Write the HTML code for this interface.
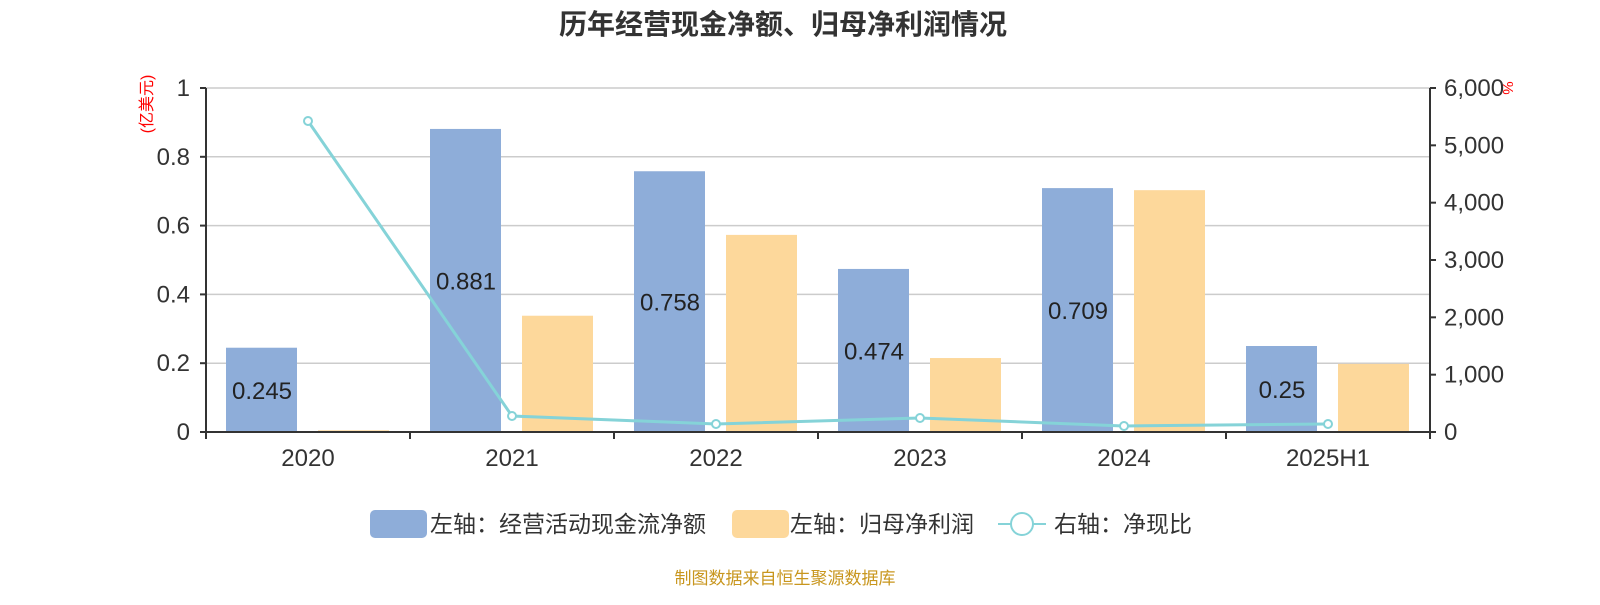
<!DOCTYPE html>
<html><head><meta charset="utf-8">
<style>
body{margin:0;background:#fff;font-family:"Liberation Sans","Noto Sans CJK SC",sans-serif;}
svg text{font-family:"Liberation Sans","Noto Sans CJK SC",sans-serif;}
</style></head>
<body>
<svg id="chart" width="1600" height="600" xmlns="http://www.w3.org/2000/svg">
<text x="783" y="34" text-anchor="middle" font-size="28" font-weight="bold" fill="#333">历年经营现金净额、归母净利润情况</text>
<text transform="translate(152,104) rotate(-90)" text-anchor="middle" font-size="16" fill="red">(亿美元)</text>
<text transform="translate(1503,88) rotate(90)" text-anchor="middle" font-size="15" fill="red">%</text>
<g id="grid"></g>
<g id="bars"></g>
<g id="line"></g>
<g id="axes"></g>
<g>
<rect x="370" y="510" width="57" height="28" rx="5" fill="#8eadd9"/>
<text x="430" y="532" font-size="23" fill="#333">左轴：经营活动现金流净额</text>
<rect x="732" y="510" width="57" height="28" rx="5" fill="#fdd89b"/>
<text x="790" y="532" font-size="23" fill="#333">左轴：归母净利润</text>
<line x1="998" y1="524" x2="1046" y2="524" stroke="#85d3d8" stroke-width="2"/>
<circle cx="1022" cy="524" r="11" fill="#fff" stroke="#85d3d8" stroke-width="2"/>
<text x="1054" y="532" font-size="23" fill="#333">右轴：净现比</text>
</g>
<text x="785" y="584" text-anchor="middle" font-size="17" fill="#c8961e">制图数据来自恒生聚源数据库</text>
</svg>
<script>
const categories=["2020","2021","2022","2023","2024","2025H1"];
const cashflow=[0.245,0.881,0.758,0.474,0.709,0.25];
const profit=[0.005,0.338,0.573,0.215,0.703,0.198];
const ratio=[5424,279,140,244,105,140];
const leftTicks=[0,0.2,0.4,0.6,0.8,1];
const rightTicks=[0,1000,2000,3000,4000,5000,6000];
const NS="http://www.w3.org/2000/svg";
const X0=206,X1=1430,Y0=432,Y1=88;
const bw=(X1-X0)/categories.length;
const yL=v=>Y0-(v/1)*(Y0-Y1);
const yR=v=>Y0-(v/6000)*(Y0-Y1);
const xc=i=>X0+bw*(i+0.5);
function mk(tag,attrs,parent,txt){const e=document.createElementNS(NS,tag);for(const k in attrs)e.setAttribute(k,attrs[k]);if(txt!==undefined)e.textContent=txt;document.getElementById(parent).appendChild(e);return e;}
leftTicks.forEach(t=>{
 if(t>0){const g=mk('line',{x1:X0,x2:X1,y1:yL(t),y2:yL(t),stroke:'#ccc','stroke-width':1.5},'grid');
 
 }
 const tk=mk('line',{x1:X0-6,x2:X0,y1:yL(t),y2:yL(t),stroke:'#333','stroke-width':2},'axes');
 
 
 const l=mk('text',{x:X0-16,y:yL(t)+8,'text-anchor':'end','font-size':24,fill:'#333'},'axes',String(t));
 
 
});
rightTicks.forEach(t=>{
 const tk=mk('line',{x1:X1,x2:X1+6,y1:yR(t),y2:yR(t),stroke:'#333','stroke-width':2},'axes');
 
 
 const l=mk('text',{x:X1+14,y:yR(t)+8,'font-size':24,fill:'#333'},'axes',t.toLocaleString('en-US'));
 
 
});
let a=mk('line',{x1:X0,x2:X0,y1:Y1,y2:Y0,stroke:'#333','stroke-width':2},'axes');


a=mk('line',{x1:X1,x2:X1,y1:Y1,y2:Y0,stroke:'#333','stroke-width':2},'axes');


a=mk('line',{x1:X0,x2:X1,y1:Y0,y2:Y0,stroke:'#333','stroke-width':2},'axes');


for(let i=0;i<=categories.length;i++){
 const t=mk('line',{x1:X0+bw*i,x2:X0+bw*i,y1:Y0,y2:Y0+7,stroke:'#333','stroke-width':2},'axes');
 
 
}
categories.forEach((c,i)=>{
 const l=mk('text',{x:xc(i),y:466,'text-anchor':'middle','font-size':24,fill:'#333'},'axes',c);
 
 
 const b=mk('rect',{x:xc(i)-82,y:yL(cashflow[i]),width:71,height:Y0-yL(cashflow[i]),fill:'#8eadd9'},'bars');
 
 
 const p=mk('rect',{x:xc(i)+10,y:yL(profit[i]),width:71,height:Y0-yL(profit[i]),fill:'#fdd89b'},'bars');
 
 
 const v=mk('text',{x:xc(i)-46,y:(yL(cashflow[i])+Y0)/2+9,'text-anchor':'middle','font-size':24,fill:'#222'},'bars',String(cashflow[i]));
 
 
});
const pts=ratio.map((v,i)=>(xc(i))+','+yR(v)).join(' ');
const pl=mk('polyline',{points:pts,fill:'none',stroke:'#85d3d8','stroke-width':3},'line');


ratio.forEach((v,i)=>{
 const c=mk('circle',{cx:xc(i),cy:yR(v),r:4,fill:'#fff',stroke:'#85d3d8','stroke-width':2},'line');
 
 
});
</script>
</body></html>
